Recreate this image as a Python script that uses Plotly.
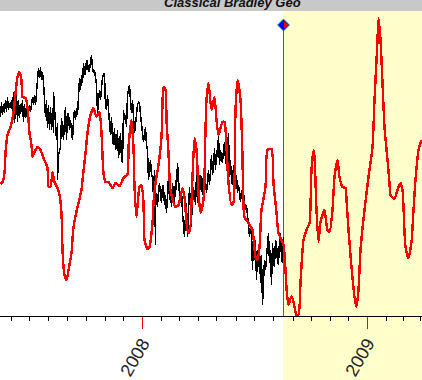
import plotly.graph_objects as go

# Bar index along the time axis, and the reading of each series on its value scale
red_idx = [0,2,4,5,7,10,13,15,17,19,21,22,25,27,29,31,32,34,37,40,43,47,48,50,52,54,57,59,61,62,64,66,68,71,73,77,81,82,85,87,90,93,96,99,101,103,105,108,112,115,119,123,127,128,131,133,134,136,139,141,143,144,147,149,152,153,155,158,161,162,163,165,166,168,170,175,178,182,184,187,189,192,194,196,198,200,203,205,206,208,211,214,216,218,222,224,226,228,231,233,235,237,240,242,244,248,252,255,257,259,261,265,267,271,273,276,278,283,286,288,291,293,296,298,300,303,306,309,311,313,314,316,318,320,323,324,327,329,332,334,337,339,342,345,346,348,351,354,356,358,360,364,368,372,374,377,378,380,382,384,387,389,390,394,396,398,400,402,403,405,408,411,413,415,418,421]
red_val = [184,182,173,153,135,127,113,93,77,72,80,97,98,107,133,145,157,152,147,150,158,168,187,187,172,182,188,195,213,250,275,280,270,253,227,207,190,180,153,133,115,108,117,112,133,173,182,182,188,183,186,178,174,147,120,147,187,217,187,185,203,240,249,247,223,203,183,165,137,103,87,90,120,153,190,207,205,188,197,230,233,177,138,150,193,213,200,130,100,83,110,97,120,135,122,122,147,183,205,202,110,80,100,157,217,223,230,257,260,247,210,187,150,149,183,213,233,245,288,305,296,302,315,315,283,240,230,223,170,150,157,210,242,222,212,210,230,232,210,177,160,177,187,188,200,230,267,297,307,290,250,210,177,147,100,40,18,40,83,127,160,183,195,199,193,187,183,190,207,247,258,242,210,180,150,140]

black_idx = list(range(0, 53)) + [53, 53] + list(range(54, 57)) + [57, 57] + list(range(58, 155)) + [155, 155] + list(range(156, 284))
black_val = [117,102,115,104,113,100,112,97,110,103,108,100,112,92,123,100,93,122,100,118,104,112,100,122,104,118,107,120,108,105,112,100,97,105,95,105,90,80,68,78,67,80,72,82,100,117,100,128,105,130,107,130,108,
             133,92,113,130,140,123,180,155,150,147,118,135,140,120,107,140,115,113,130,120,135,140,120,110,120,108,115,88,78,90,75,83,63,75,73,60,62,72,70,62,55,68,73,70,80,85,113,100,90,100,85,77,75,73,107,110,95,115,123,135,117,140,145,128,150,147,130,158,140,133,160,163,110,120,115,127,95,87,85,100,113,100,117,133,125,113,105,102,103,115,125,130,142,135,127,145,150,180,165,160,175,177,197,170,
             245,190,200,207,190,183,195,203,185,187,205,195,213,190,177,200,190,207,183,195,203,180,190,163,183,195,203,190,213,225,237,215,203,237,205,187,210,227,183,200,190,205,175,203,167,195,175,180,195,173,190,180,193,175,170,185,165,155,175,167,148,170,150,157,135,165,150,160,163,150,142,160,165,150,133,177,160,180,185,165,180,187,175,193,185,195,202,190,200,193,205,210,205,217,225,237,225,230,270,235,260,240,280,250,267,245,283,255,305,277,260,270,260,245,233,263,250,285,243,262,267,240,243,262,265,240,233,258,263,237]

year_ticks = [142, 367]
year_labels = ["2008", "2009"]
month_ticks = [11,29,48,67,86,105,123,161,179,198,216,236,254,273,293,311,330,348,386,403,420]
now_idx = [283]
now_val = [25]
forecast_start, forecast_end = 283, 422
title = "Classical Bradley Geo"

fig = go.Figure()
fig.add_trace(go.Scatter(x=black_idx, y=black_val, mode="lines", line=dict(color="#000000", width=1.5), hoverinfo="skip"))
fig.add_trace(go.Scatter(x=red_idx, y=red_val, mode="lines", line=dict(color="#ff0000", width=2.4, shape="spline", smoothing=0.6), hoverinfo="skip"))
fig.add_trace(go.Scatter(x=now_idx, y=now_val, mode="markers", cliponaxis=False,
                         marker=dict(symbol="diamond", size=9, color="#0000ff", line=dict(color="#008080", width=1)), hoverinfo="skip"))
fig.add_trace(go.Scatter(x=[now_idx[0] + 2], y=now_val, mode="markers", cliponaxis=False,
                         marker=dict(symbol="triangle-right", size=6, color="#ff0000"), hoverinfo="skip"))

fig.add_shape(type="rect", xref="x", yref="paper", x0=forecast_start - 0.5, x1=forecast_end, y0=-64/305, y1=1,
              fillcolor="#ffffcc", line_width=0, layer="below")
fig.add_shape(type="rect", xref="paper", yref="paper", x0=0, x1=1, y0=1, y1=1 + 11/305,
              fillcolor="#c8c8c8", line_width=0, layer="above")
fig.add_shape(type="line", xref="x", yref="y", x0=now_idx[0], x1=now_idx[0], y0=now_val[0], y1=316,
              line=dict(color="#008080", width=1), layer="below")
fig.add_annotation(text="<b><i>" + title + "</i></b>", xref="paper", yref="paper", x=232/422, y=1,
                   yshift=-1, yanchor="bottom", xanchor="center", showarrow=False,
                   font=dict(family="Liberation Sans", size=13, color="#111111"))

fig.update_layout(
    width=422, height=380, margin=dict(l=0, r=0, t=11, b=64),
    paper_bgcolor="rgba(255,255,255,0)", plot_bgcolor="rgba(255,255,255,0)", showlegend=False,
    xaxis=dict(range=[-0.5, 421.5], showgrid=False, zeroline=False, showline=True, linecolor="#000000", linewidth=1,
               tickmode="array", tickvals=year_ticks, ticktext=year_labels, ticks="outside", ticklen=12,
               tickcolor="#ff0000", tickwidth=1, tickangle=-60, ticklabelstandoff=-3,
               tickfont=dict(family="Liberation Sans", size=18, color="#222222"),
               minor=dict(tickmode="array", tickvals=month_ticks, ticks="outside", ticklen=4,
                          tickcolor="#000000", tickwidth=1, showgrid=False)),
    yaxis=dict(range=[316, 11], visible=False, showgrid=False, zeroline=False),
)
fig.write_html("out.html", config={"displayModeBar": False},
               post_script="document.body.style.margin='0';document.body.style.background='#fff';document.body.style.overflow='hidden';document.querySelectorAll('.js-line').forEach(function(p){p.style.shapeRendering='crispEdges';});")
